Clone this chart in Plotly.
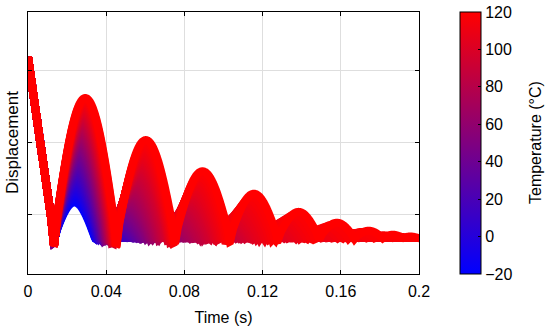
import numpy as np
import plotly.graph_objects as go

# ---------------- values ----------------
temp_min, temp_max = -20, 120
curve_step = 2                      # one curve every 2 °C
y_start = 2.18                      # displacement at t = 0
first_impact_t = 0.0133             # first impact (shared by all curves)
rest_level = -0.317                 # level of the resting curves
impact_dip = 0.12                   # depth of the V at the first impact (120 °C)
dip_halfwidth = 0.0015

# 120 °C (red) curve: bounce heights above rest level and bounce durations
red_arch_heights = [1.93, 1.35, 0.92, 0.61, 0.36, 0.21, 0.10, 0.045]
red_arch_durations = [0.0320, 0.0299, 0.0281, 0.0245, 0.0212, 0.0180, 0.0145, 0.0102]
# -20 °C (blue) curve: a single bounce
blue_arch_height = 0.49
blue_arch_duration = 0.0209

x_tick_vals = [0, 0.04, 0.08, 0.12, 0.16, 0.2]
x_tick_text = ["0", "0.04", "0.08", "0.12", "0.16", "0.2"]
y_grid_vals = [0, 1, 2]
cbar_ticks = [-20, 0, 20, 40, 60, 80, 100, 120]

# ---------------- build the curve family ----------------
temperatures = np.arange(temp_min, temp_max + 1, curve_step)
t = np.linspace(0, 0.2, 1601)

# mapping height -> next bounce height / duration, from the red curve
pairs_in = [0.0] + red_arch_heights[:-1][::-1]
pairs_out = [0.0] + red_arch_heights[1:][::-1]
dur_in = [0.0] + red_arch_heights[::-1]
dur_out = [0.006] + red_arch_durations[::-1]


def curve(temp):
    f = (temp - temp_min) / (temp_max - temp_min)
    q = f ** 1.3
    y = np.full_like(t, rest_level)
    m = t <= first_impact_t
    y[m] = y_start + (rest_level - y_start) * t[m] / first_impact_t
    impacts = [(first_impact_t, impact_dip * (0.3 + 0.7 * f))]
    L = first_impact_t
    H = blue_arch_height + (red_arch_heights[0] - blue_arch_height) * f
    D = blue_arch_duration + (red_arch_durations[0] - blue_arch_duration) * f
    while H > 0.008 and L < 0.2:
        m = (t > L) & (t < L + D)
        y[m] = rest_level + H * np.sin(np.pi * (t[m] - L) / D)
        L = L + D
        impacts.append((L, impact_dip * H / red_arch_heights[0] * f))
        H = np.interp(H, pairs_in, pairs_out) * q
        D = np.interp(H, dur_in, dur_out)
    for (ti, c) in impacts:
        tri = np.clip(1 - np.abs(t - ti) / dip_halfwidth, 0, None)
        y = y - c * tri
    return y, f


fig = go.Figure()
for temp in temperatures:
    y, f = curve(temp)
    col = "rgb(%d,0,%d)" % (round(255 * f), round(255 * (1 - f)))
    fig.add_trace(go.Scatter(x=t, y=y, mode="lines",
                             line=dict(color=col, width=8, simplify=False),
                             hoverinfo="skip", showlegend=False))

fig.add_trace(go.Scatter(
    x=[None], y=[None], mode="markers", showlegend=False, hoverinfo="skip",
    marker=dict(color=[temp_min], cmin=temp_min, cmax=temp_max,
                colorscale=[[0, "rgb(0,0,255)"], [1, "rgb(255,0,0)"]],
                showscale=True,
                colorbar=dict(
                    thickness=21, thicknessmode="pixels",
                    len=1, lenmode="fraction", y=0.5, yanchor="middle",
                    x=1.105, xanchor="left", xpad=0, ypad=0,
                    outlinewidth=1, outlinecolor="black",
                    ticks="inside", ticklen=3, tickcolor="black",
                    tickvals=cbar_ticks,
                    tickfont=dict(size=16, color="black"),
                ))))

FONT = "Liberation Sans, Arial, sans-serif"
fig.update_layout(
    width=550, height=331,
    margin=dict(l=28, r=131, t=12, b=57),
    paper_bgcolor="white", plot_bgcolor="white",
    font=dict(family=FONT, size=16, color="black"),
    showlegend=False,
    annotations=[
        dict(text="Displacement", xref="paper", yref="paper", x=0, y=0.5,
             xanchor="center", yanchor="middle", xshift=-16, textangle=-90,
             showarrow=False, font=dict(size=17, color="black")),
        dict(text="Temperature (°C)", xref="paper", yref="paper", x=1.2967, y=0.5,
             xanchor="center", yanchor="middle", textangle=-90,
             showarrow=False, font=dict(size=16, color="black")),
    ],
)
fig.update_xaxes(
    range=[0, 0.2], tickvals=x_tick_vals, ticktext=x_tick_text,
    ticks="inside", ticklen=4, tickcolor="black",
    showline=True, linecolor="black", linewidth=1, mirror="ticks",
    showgrid=True, gridcolor="rgb(222,222,222)", gridwidth=1, zeroline=False,
    title=dict(text="Time (s)", font=dict(size=16), standoff=12),
    tickfont=dict(size=16), ticklabelstandoff=3, automargin=False,
)
fig.update_yaxes(
    range=[-0.814, 2.80], tickvals=y_grid_vals, showticklabels=False,
    ticks="inside", ticklen=4, tickcolor="black",
    showline=True, linecolor="black", linewidth=1, mirror="ticks",
    showgrid=True, gridcolor="rgb(222,222,222)", gridwidth=1, zeroline=False,
    automargin=False,
)

fig.write_html("out.html", config={"displayModeBar": False},
               post_script="document.body.style.margin='0';")
